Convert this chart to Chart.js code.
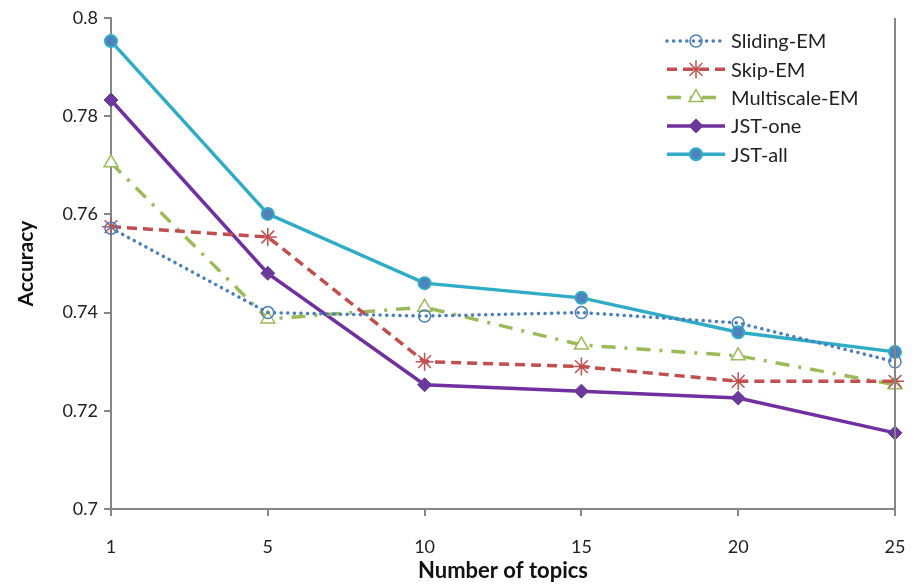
<!DOCTYPE html>
<html>
<head>
<meta charset="utf-8">
<script src="https://cdn.jsdelivr.net/npm/chart.js@4"></script>
<style>
  html, body { margin: 0; padding: 0; background: #fff; }
  #wrap { width: 914px; height: 587px; position: relative; }
</style>
</head>
<body>
<div id="wrap"><canvas id="accChart"></canvas></div>
<script>
// ----------------- Data -----------------
const topics = ['1', '5', '10', '15', '20', '25'];
const slidingEM = [0.7572, 0.7400, 0.7393, 0.7400, 0.7379, 0.7300];
const skipEM = [0.7575, 0.7554, 0.7300, 0.7290, 0.7260, 0.7260];
const multiscaleEM = [0.7705, 0.7387, 0.7411, 0.7334, 0.7312, 0.7253];
const jstOne = [0.7833, 0.7480, 0.7253, 0.7240, 0.7226, 0.7155];
const jstAll = [0.7953, 0.7601, 0.7460, 0.7430, 0.7360, 0.7320];
const yTicks = [0.7, 0.72, 0.74, 0.76, 0.78, 0.8];

const FONT = 'Lato, "Open Sans", sans-serif';
const AXIS = '#868686';

// legend that shows line sample + marker, like the original
const lineLegend = {
  id: 'lineLegend',
  afterDraw(chart) {
    const ctx = chart.ctx;
    const area = chart.chartArea;
    const x0 = area.right - 228, y0 = area.top + 23;
    chart.data.datasets.forEach((ds, i) => {
      const y = y0 + i * 28.3;
      ctx.save();
      ctx.strokeStyle = ds.borderColor;
      ctx.lineWidth = ds.borderWidth;
      ctx.lineCap = ds.borderCapStyle || 'butt';
      ctx.setLineDash(ds.borderDash || []);
      ctx.beginPath();
      ctx.moveTo(x0, y);
      ctx.lineTo(x0 + 58, y);
      ctx.stroke();
      ctx.setLineDash([]);
      ctx.fillStyle = ds.pointBackgroundColor;
      ctx.strokeStyle = ds.pointBorderColor;
      ctx.lineWidth = ds.pointBorderWidth;
      Chart.helpers.drawPoint(ctx, {
        pointStyle: ds.pointStyle, radius: ds.pointRadius, rotation: 0, borderWidth: ds.pointBorderWidth
      }, x0 + 29, y);
      ctx.fillStyle = '#222';
      ctx.font = '20px ' + FONT;
      ctx.textBaseline = 'middle';
      ctx.fillText(ds.label, x0 + 64, y + 1);
      ctx.restore();
    });
  }
};

// draw the right border line of the plot area
const rightBorder = {
  id: 'rightBorder',
  afterDraw(chart) {
    const a = chart.chartArea, ctx = chart.ctx;
    ctx.save();
    ctx.strokeStyle = AXIS;
    ctx.lineWidth = 2;
    ctx.beginPath();
    ctx.moveTo(a.right, a.top);
    ctx.lineTo(a.right, a.bottom);
    ctx.stroke();
    ctx.restore();
  }
};

const ctx = document.getElementById('accChart').getContext('2d');
new Chart(ctx, {
  type: 'line',
  data: {
    labels: topics,
    datasets: [
      {
        label: 'Sliding-EM', data: slidingEM,
        borderColor: '#4a7ebb', borderWidth: 3.5, borderDash: [0.1, 6.5], borderCapStyle: 'round',
        pointStyle: 'circle', pointRadius: 6, pointBorderWidth: 1.5,
        pointBackgroundColor: 'rgba(255,255,255,0)', pointBorderColor: '#4a7ebb'
      },
      {
        label: 'Skip-EM', data: skipEM,
        borderColor: '#c0504d', borderWidth: 3.5, borderDash: [10, 6],
        pointStyle: 'star', pointRadius: 9, pointBorderWidth: 1.5,
        pointBackgroundColor: '#c0504d', pointBorderColor: '#c0504d'
      },
      {
        label: 'Multiscale-EM', data: multiscaleEM,
        borderColor: '#9bbb59', borderWidth: 3.5, borderDash: [14, 9, 3, 9],
        pointStyle: 'triangle', pointRadius: 8, pointBorderWidth: 1.5,
        pointBackgroundColor: '#ffffff', pointBorderColor: '#9bbb59'
      },
      {
        label: 'JST-one', data: jstOne,
        borderColor: '#7030a0', borderWidth: 3.5,
        pointStyle: 'rectRot', pointRadius: 7, pointBorderWidth: 1,
        pointBackgroundColor: '#6a3a9a', pointBorderColor: '#6a3a9a'
      },
      {
        label: 'JST-all', data: jstAll,
        borderColor: '#31acc6', borderWidth: 3.5,
        pointStyle: 'circle', pointRadius: 6, pointBorderWidth: 2,
        pointBackgroundColor: '#4f81bd', pointBorderColor: '#31acc6'
      }
    ]
  },
  options: {
    responsive: true,
    maintainAspectRatio: false,
    animation: false,
    layout: { padding: { top: 18, right: 0, left: 14, bottom: 0 } },
    plugins: {
      legend: { display: false },
      tooltip: { enabled: false }
    },
    scales: {
      x: {
        type: 'category',
        offset: false,
        afterFit: (s) => { s.height = 78; s.paddingRight = 19; },
        grid: { display: true, drawOnChartArea: false, drawTicks: true, tickLength: 7, color: AXIS, lineWidth: 2 },
        border: { display: true, color: AXIS, width: 2 },
        ticks: { color: '#222', font: { family: FONT, size: 18 }, padding: 20 },
        title: { display: true, text: 'Number of topics', color: '#111', font: { family: FONT, size: 22, weight: 'bold' }, padding: { top: 0, bottom: 3 } }
      },
      y: {
        min: 0.7, max: 0.8,
        afterFit: (s) => { s.width = 97; },
        afterBuildTicks: (s) => { s.ticks = yTicks.map(v => ({ value: v })); },
        grid: { display: true, drawOnChartArea: false, drawTicks: true, tickLength: 7, color: AXIS, lineWidth: 2 },
        border: { display: true, color: AXIS, width: 2 },
        ticks: { color: '#222', font: { family: FONT, size: 18 }, padding: 6, callback: (v) => String(+v.toFixed(2)) },
        title: { display: true, text: 'Accuracy', color: '#111', font: { family: FONT, size: 21, weight: 'bold' }, padding: { top: 0, bottom: 0 } }
      }
    }
  },
  plugins: [lineLegend, rightBorder]
});
</script>
</body>
</html>
